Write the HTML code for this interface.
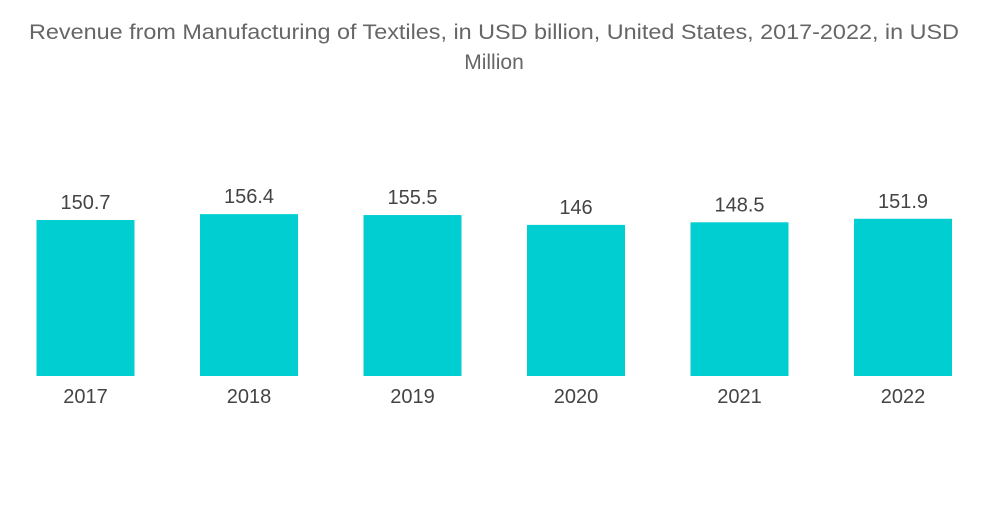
<!DOCTYPE html>
<html><head><meta charset="utf-8"><style>
body{margin:0;background:#fff;width:1000px;height:504px;overflow:hidden;font-family:"Liberation Sans",sans-serif}
</style></head><body>
<svg width="1000" height="504">
<text x="494" y="39" text-anchor="middle" font-size="21" textLength="930" lengthAdjust="spacingAndGlyphs" fill="#666">Revenue from Manufacturing of Textiles, in USD billion, United States, 2017-2022, in USD</text>
<text x="494" y="69" text-anchor="middle" font-size="21" fill="#666">Million</text>
<g id="bars"></g>
</svg>
<script>
const categories=["2017","2018","2019","2020","2021","2022"];
const values=[150.7,156.4,155.5,146,148.5,151.9];
const labels=["150.7","156.4","155.5","146","148.5","151.9"];
const base=376,scale=1.035,x0=85.5,step=163.5,bw=98;
const g=document.getElementById('bars');
const ns='http://www.w3.org/2000/svg';
const xs=i=>x0+i*step, ys=v=>base-v*scale;
values.forEach((v,i)=>{
 const r=document.createElementNS(ns,'rect');
 r.setAttribute('x',xs(i)-bw/2);r.setAttribute('y',ys(v));r.setAttribute('width',bw);r.setAttribute('height',base-ys(v));r.setAttribute('fill','#00ced1');
 
 
 g.appendChild(r);
 const t=document.createElementNS(ns,'text');
 t.setAttribute('x',xs(i));t.setAttribute('y',ys(v)-11);t.setAttribute('text-anchor','middle');t.setAttribute('font-size','20');t.setAttribute('fill','#444');
 t.textContent=labels[i];
 
 
 g.appendChild(t);
 const c=document.createElementNS(ns,'text');
 c.setAttribute('x',xs(i));c.setAttribute('y',403);c.setAttribute('text-anchor','middle');c.setAttribute('font-size','20');c.setAttribute('fill','#444');
 c.textContent=categories[i];
 
 
 g.appendChild(c);
});
</script>
</body></html>
